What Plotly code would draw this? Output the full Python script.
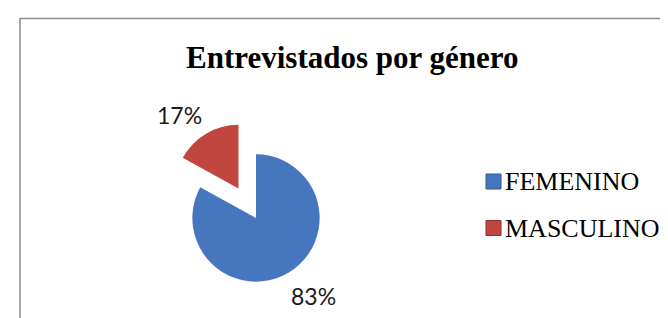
import plotly.graph_objects as go

labels = ["FEMENINO", "MASCULINO"]
values = [83, 17]
colors = ["#4677be", "#c0463f"]
pulls = [0.0, 0.54]
title_text = "Entrevistados por género"

W, H = 668, 318

def px_x(x):
    return x / W

def px_y(y):
    return 1 - y / H

fig = go.Figure()
fig.add_trace(go.Pie(
    labels=labels,
    values=values,
    sort=False,
    direction="clockwise",
    rotation=0,
    pull=pulls,
    marker=dict(colors=colors, line=dict(width=0)),
    textinfo="none",
    hoverinfo="label+percent",
    showlegend=False,
    domain=dict(x=[px_x(150.0), px_x(346.0)], y=[px_y(308.0), px_y(112.0)]),
))

total = sum(values)
pct = [f"{round(v * 100 / total)}%" for v in values]
label_pos = [(305, 288), (171, 107)]

annotations = []
for t, (x, y) in zip(pct, label_pos):
    annotations.append(dict(
        x=px_x(x), y=px_y(y), xref="paper", yref="paper",
        text=t, showarrow=False, xanchor="center", yanchor="middle",
        font=dict(family="Lato", size=23, color="#1a1a1a"),
    ))

# title
annotations.append(dict(
    x=px_x(344), y=px_y(50), xref="paper", yref="paper",
    text=f"<b>{title_text}</b>", showarrow=False, xanchor="center", yanchor="middle",
    font=dict(family="Liberation Serif", size=31, color="#000000"),
))

shapes = [dict(
    type="rect", xref="paper", yref="paper",
    x0=px_x(12), x1=1.05, y0=-0.05, y1=px_y(10.5),
    line=dict(color="#8c8c8c", width=1.5), fillcolor="rgba(0,0,0,0)", layer="below",
)]

legend_y = [173.5, 220]
line_cols = ["#2f5a94", "#8f2d29"]
for lab, col, lc, y in zip(labels, colors, line_cols, legend_y):
    shapes.append(dict(
        type="rect", xref="paper", yref="paper",
        x0=px_x(478), x1=px_x(493), y0=px_y(y + 7.5), y1=px_y(y - 7.5),
        fillcolor=col, line=dict(color=lc, width=1),
    ))
    annotations.append(dict(
        x=px_x(495), y=px_y(y), xref="paper", yref="paper",
        text=lab, showarrow=False, xanchor="left", yanchor="middle",
        font=dict(family="Liberation Serif", size=26, color="#000000"),
    ))

fig.update_layout(
    width=W, height=H,
    margin=dict(l=0, r=0, t=0, b=0),
    paper_bgcolor="#ffffff",
    plot_bgcolor="#ffffff",
    annotations=annotations,
    shapes=shapes,
)

fig.write_html("out.html")
